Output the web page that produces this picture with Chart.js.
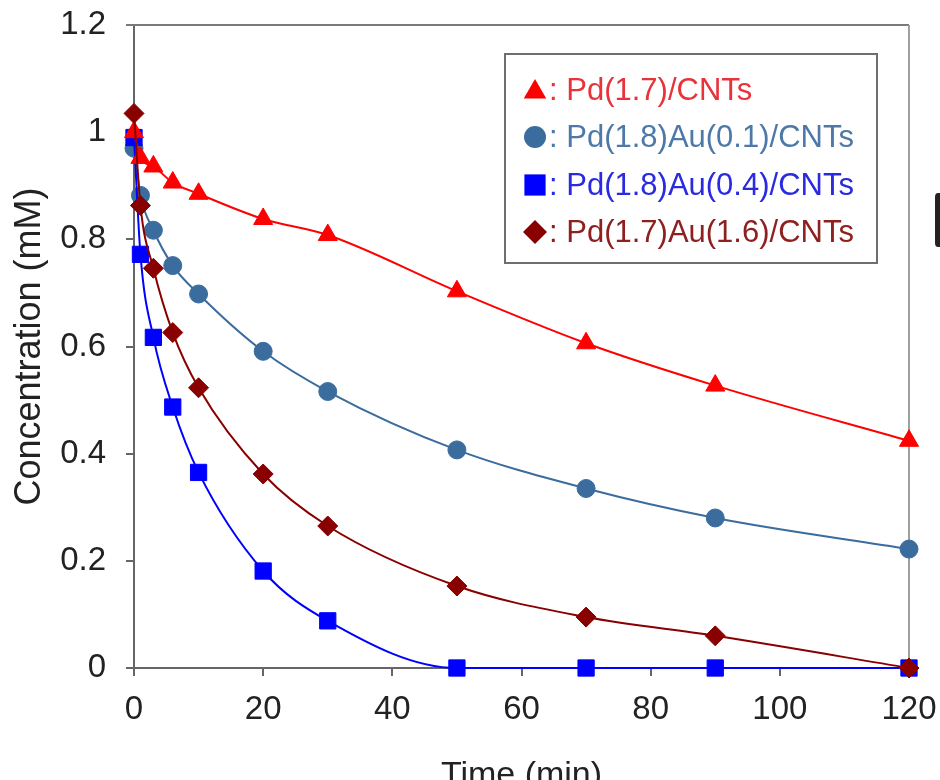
<!DOCTYPE html>
<html>
<head>
<meta charset="utf-8">
<script src="https://cdn.jsdelivr.net/npm/chart.js@4"></script>
<style>
  html, body { margin: 0; padding: 0; background: #ffffff; }
  #wrap { width: 940px; height: 780px; }
</style>
</head>
<body>
<div id="wrap"><canvas id="c" width="940" height="780"></canvas></div>
<script>
// ---- data ----
const times = [0, 1, 3, 6, 10, 20, 30, 50, 70, 90, 120];
const pd17 = [1.00, 0.952, 0.936, 0.906, 0.885, 0.838, 0.808, 0.703, 0.606, 0.527, 0.424];
const pd18au01 = [0.970, 0.882, 0.817, 0.751, 0.698, 0.591, 0.516, 0.407, 0.335, 0.280, 0.222];
const pd18au04 = [0.990, 0.772, 0.617, 0.487, 0.365, 0.181, 0.088, 0, 0, 0, 0];
const pd17au16 = [1.035, 0.863, 0.746, 0.626, 0.523, 0.362, 0.265, 0.153, 0.095, 0.060, 0];
const seriesLabels = ['Pd(1.7)/CNTs', 'Pd(1.8)Au(0.1)/CNTs', 'Pd(1.8)Au(0.4)/CNTs', 'Pd(1.7)Au(1.6)/CNTs'];
const xTickValues = [0, 20, 40, 60, 80, 100, 120];
const yTickValues = [0, 0.2, 0.4, 0.6, 0.8, 1, 1.2];
const xTitle = 'Time (min)';
const yTitle = 'Concentration (mM)';

const FONT = "'Liberation Sans', Arial, Helvetica, sans-serif";

function pts(ys) { return times.map((t, i) => ({ x: t, y: ys[i] })); }

const styles = [
  { color: '#ff0000', text: '#e8333a', pointStyle: 'triangle', radius: 11, order: 1 },
  { color: '#3b6c9e', text: '#4d79a8', pointStyle: 'circle', radius: 9, order: 3 },
  { color: '#0000ff', text: '#2a2ae0', pointStyle: 'rect', radius: 11.5, order: 2 },
  { color: '#880000', text: '#8e2020', pointStyle: 'rectRot', radius: 10, order: 0 }
];
const seriesValues = [pd17, pd18au01, pd18au04, pd17au16];

const datasets = seriesValues.map((vals, i) => ({
  label: seriesLabels[i],
  data: pts(vals),
  showLine: true,
  borderColor: styles[i].color,
  backgroundColor: styles[i].color,
  pointBackgroundColor: styles[i].color,
  pointBorderColor: styles[i].color,
  pointBorderWidth: 1,
  pointStyle: styles[i].pointStyle,
  pointRadius: styles[i].radius,
  pointHoverRadius: styles[i].radius,
  borderWidth: 2,
  cubicInterpolationMode: 'monotone',
  clip: false,
  order: styles[i].order
}));

function drawMarker(ctx, style, r, x, y) {
  ctx.beginPath();
  if (style === 'triangle') {
    ctx.moveTo(x, y - r);
    ctx.lineTo(x + r * 0.866, y + r * 0.5);
    ctx.lineTo(x - r * 0.866, y + r * 0.5);
    ctx.closePath();
  } else if (style === 'circle') {
    ctx.arc(x, y, r, 0, Math.PI * 2);
  } else if (style === 'rect') {
    const s = r * Math.SQRT1_2;
    ctx.rect(x - s, y - s, 2 * s, 2 * s);
  } else if (style === 'rectRot') {
    ctx.moveTo(x, y - r);
    ctx.lineTo(x + r, y);
    ctx.lineTo(x, y + r);
    ctx.lineTo(x - r, y);
    ctx.closePath();
  }
  ctx.fill();
}

const framePlugin = {
  id: 'frame',
  beforeDatasetsDraw(chart) {
    const { ctx, chartArea: a } = chart;
    ctx.save();
    ctx.lineWidth = 2;
    ctx.strokeStyle = '#7a7a7a';
    ctx.beginPath();
    ctx.moveTo(a.left - 8, a.top);
    ctx.lineTo(a.right, a.top);
    ctx.stroke();
    ctx.strokeStyle = '#a0a0a0';
    ctx.beginPath();
    ctx.moveTo(a.right, a.top);
    ctx.lineTo(a.right, a.bottom);
    ctx.stroke();
    ctx.restore();
  },
  afterDatasetsDraw(chart) {
    const { ctx } = chart;
    ctx.save();
    // legend box
    const bx = 505, by = 54, bw = 372, bh = 209;
    ctx.fillStyle = '#ffffff';
    ctx.fillRect(bx, by, bw, bh);
    ctx.lineWidth = 2;
    ctx.strokeStyle = '#6e6e6e';
    ctx.strokeRect(bx, by, bw, bh);
    ctx.font = '31px ' + FONT;
    ctx.textBaseline = 'middle';
    ctx.textAlign = 'left';
    const rows = [90, 137, 185, 232];
    chart.data.datasets.forEach((ds, i) => {
      const st = styles[i];
      ctx.fillStyle = st.color;
      const mr = st.pointStyle === 'triangle' ? 13 : (st.pointStyle === 'circle' ? 11 : (st.pointStyle === 'rect' ? 15 : 12));
      const my = st.pointStyle === 'triangle' ? rows[i] + 2 : rows[i];
      drawMarker(ctx, st.pointStyle, mr, 535, my);
      ctx.fillStyle = st.text;
      ctx.fillText(': ' + ds.label, 549, rows[i] + 1);
    });
    // partial dark element at right edge of the picture
    ctx.fillStyle = '#222222';
    ctx.beginPath();
    ctx.moveTo(940, 193);
    ctx.lineTo(938, 193);
    ctx.quadraticCurveTo(935, 193, 935, 197);
    ctx.lineTo(935, 243);
    ctx.quadraticCurveTo(935, 247, 938, 247);
    ctx.lineTo(940, 247);
    ctx.closePath();
    ctx.fill();
    ctx.restore();
  }
};

new Chart(document.getElementById('c'), {
  type: 'scatter',
  data: { datasets },
  options: {
    responsive: false,
    animation: false,
    devicePixelRatio: 1,
    layout: { padding: { top: 25, right: 31, left: 0, bottom: 0 } },
    plugins: {
      legend: { display: false },
      tooltip: { enabled: false },
      title: { display: false }
    },
    scales: {
      x: {
        type: 'linear',
        min: 0, max: 120,
        afterBuildTicks(scale) { scale.ticks = xTickValues.map(v => ({ value: v })); },
        afterFit(scale) {
          scale.height = 112;
          scale.paddingLeft = 0; scale.paddingRight = 0;
        },
        grid: { drawOnChartArea: false, drawTicks: true, tickLength: 8, color: '#666666', lineWidth: 2 },
        border: { display: true, color: '#666666', width: 2 },
        ticks: {
          color: '#222222',
          padding: 14,
          maxRotation: 0,
          font: { family: FONT, size: 33 }
        },
        title: {
          display: true,
          text: xTitle,
          color: '#222222',
          font: { family: FONT, size: 34 },
          padding: { top: 0, bottom: -16 }
        }
      },
      y: {
        type: 'linear',
        min: 0, max: 1.2,
        afterBuildTicks(scale) { scale.ticks = yTickValues.map(v => ({ value: v })); },
        afterFit(scale) {
          scale.width = 134;
          scale.paddingTop = 0; scale.paddingBottom = 0;
        },
        grid: { drawOnChartArea: false, drawTicks: true, tickLength: 8, color: '#666666', lineWidth: 2 },
        border: { display: true, color: '#666666', width: 2 },
        ticks: {
          color: '#222222',
          padding: 20,
          font: { family: FONT, size: 33 },
          callback: v => String(Math.round(v * 10) / 10)
        },
        title: {
          display: true,
          text: yTitle,
          color: '#222222',
          font: { family: FONT, size: 36 },
          padding: { top: 8, bottom: 0 }
        }
      }
    }
  },
  plugins: [framePlugin]
});
</script>
</body>
</html>
